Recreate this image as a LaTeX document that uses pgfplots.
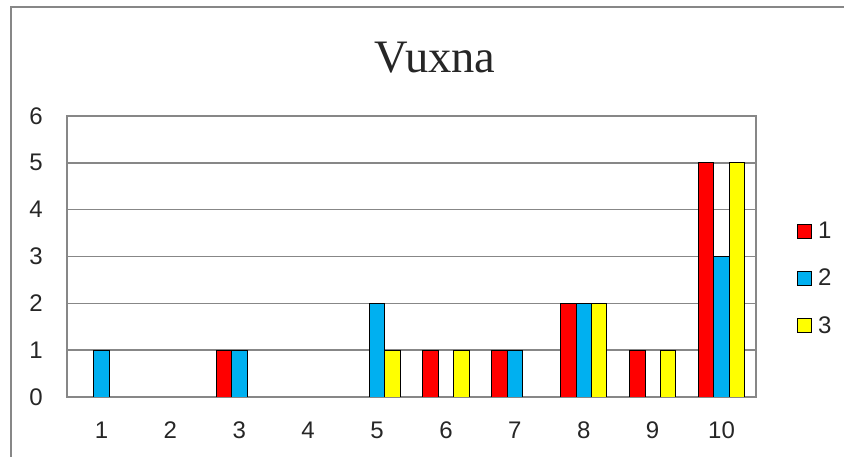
\documentclass[border=0pt]{standalone}
\usepackage{pgfplots}
\pgfplotsset{compat=1.18}
\usepackage{fontspec}
\setmainfont{Liberation Sans}
\newfontfamily\titlefont{Liberation Serif}
\definecolor{sred}{HTML}{FF0000}
\definecolor{sblue}{HTML}{00B0F0}
\definecolor{syellow}{HTML}{FFFF00}
\definecolor{gridgray}{HTML}{878787}
\definecolor{txt}{HTML}{262626}
\begin{document}
\begin{tikzpicture}[x=1pt,y=1pt]
\useasboundingbox (0,0) rectangle (844,457);
% outer chart frame (only top and left edges are visible)
\draw[gridgray, line width=1.2pt] (11,0) -- (11,450) -- (844,450);
\node[anchor=base, text=txt, font=\titlefont\fontsize{46.5}{50}\selectfont] at (435,384) {Vuxna};
\begin{axis}[
    at={(67pt,60pt)}, anchor=south west,
    width=689pt, height=281pt, scale only axis,
    ybar=0pt, bar width=15.4pt,
    xmin=0.5, xmax=10.5,
    ymin=0, ymax=6,
    xtick={1,...,10},
    ytick={0,...,6},
    major tick length=0pt,
    ymajorgrids,
    grid style={gridgray, line width=1.4pt},
    axis line style={gridgray, line width=1.4pt},
    tick label style={text=txt, font=\fontsize{24}{28}\selectfont, inner sep=0pt},
    yticklabel style={anchor=east, xshift=-24pt},
    xticklabel style={anchor=north, yshift=-25pt},
    /pgf/number format/assume math mode=true,
    every axis plot/.append style={draw=black, line width=0.9pt},
    legend image code/.code={\draw[#1] (0pt,-7pt) rectangle (14pt,7pt);},
    legend style={
        at={(1.0595,0.623)}, anchor=north west,
        draw=none, fill=none, inner sep=0pt,
        row sep=29pt, column sep=6pt,
        nodes={anchor=west, inner sep=0pt, text=txt, font=\fontsize{24}{28}\selectfont},
    },
]
\addplot[fill=sred] coordinates {(3,1)(6,1)(7,1)(8,2)(9,1)(10,5)};
\addplot[fill=sblue] coordinates {(1,1)(3,1)(5,2)(7,1)(8,2)(10,3)};
\addplot[fill=syellow] coordinates {(5,1)(6,1)(8,2)(9,1)(10,5)};
\legend{1,2,3}
\end{axis}
\end{tikzpicture}
\end{document}
